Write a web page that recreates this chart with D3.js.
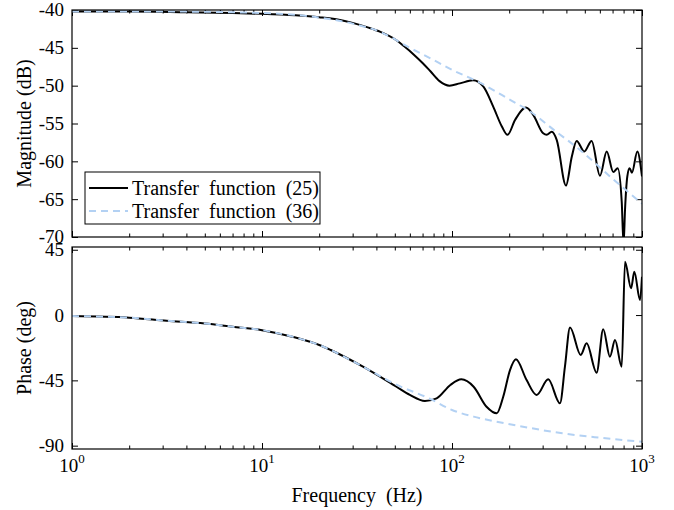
<!DOCTYPE html>
<html>
<head>
<meta charset="utf-8">
<script src="https://cdn.jsdelivr.net/npm/d3@7"></script>
<style>
  body { margin: 0; background: #fff; }
  svg, svg text { font-family: "Liberation Serif", Tinos, "Times New Roman", Times, "DejaVu Serif", serif; fill: #000; }
</style>
</head>
<body>
<div></div>
<script>
// ---- data ----
const freqTicks = [1, 10, 100, 1000];
const magTicks = [-70, -65, -60, -55, -50, -45, -40];
const phaseTicks = [-90, -45, 0, 45];
const seriesNames = ["Transfer function (25)", "Transfer function (36)"];

const mag25Freq = [1, 2, 4, 7, 10, 15, 20, 25, 30, 36, 42, 51, 56, 63, 70, 77, 86, 97, 110, 129, 146, 165, 183, 196, 215, 245, 268, 302, 315, 335, 356, 398, 427, 453, 497, 543, 601, 652, 706, 745, 782, 800, 814, 837, 860, 885, 945, 1000];
const mag25 = [-40.2, -40.2, -40.3, -40.4, -40.5, -40.7, -40.95, -41.25, -41.7, -42.3, -42.9, -44.0, -44.8, -45.9, -47.0, -48.1, -49.4, -50.0, -49.7, -49.3, -50.1, -52.8, -55.4, -56.5, -54.5, -52.9, -53.9, -56.3, -56.5, -56.1, -57.2, -63.2, -59.4, -57.3, -58.7, -57.3, -61.9, -58.7, -61.4, -60.9, -65.3, -71, -66.4, -62.0, -60.9, -61.5, -58.7, -62.0];

const mag36Freq = [1, 3, 10, 20, 30, 42, 60, 77, 100, 140, 200, 257, 350, 472, 700, 1000];
const mag36 = [-40.2, -40.2, -40.4, -41.0, -41.8, -42.9, -45.0, -46.4, -47.9, -49.6, -51.8, -53.4, -56.0, -58.5, -62.3, -65.6];

const phase25Freq = [1, 2, 3.15, 5, 7, 10, 15, 20, 23, 34, 51, 60, 72, 83, 98, 112, 130, 152, 172, 186, 202, 217, 247, 279, 321, 370, 393, 418, 476, 511, 577, 625, 678, 721, 782, 814, 876, 911, 976, 1000];
const phase25 = [-0.7, -1.8, -3.9, -5.8, -8, -10.4, -15.5, -20.6, -24.1, -35.6, -49.4, -55, -59.2, -57.4, -48.2, -44.3, -49.4, -63.2, -67.7, -56.3, -37.9, -30.5, -44.8, -55.1, -44.3, -60.8, -35.6, -8.5, -27.5, -19.5, -39.7, -9.8, -28.7, -17.2, -35.6, 36.7, 18.4, 29.8, 10.3, 26.4];

const phase36Freq = [1, 2, 3.15, 5, 7, 10, 15, 20, 23, 34, 51, 76, 100, 130, 172, 250, 381, 600, 1000];
const phase36 = [-0.7, -1.8, -3.9, -5.8, -8, -10.4, -15.5, -20.6, -24.1, -35.6, -48, -57.5, -65.4, -70, -73.5, -77.5, -81.5, -84.5, -87.3];

// ---- layout ----
const W = 674, H = 510;
const left = 72, right = 642;
const top1 = 10, bot1 = 237;
const top2 = 247, bot2 = 449;
const blue = "#b3d1f3";
const serif = '"Liberation Serif", Tinos, "Times New Roman", Times, "DejaVu Serif", serif';

const svg = d3.select("div").append("svg").attr("width", W).attr("height", H)
  .attr("font-family", serif);

const x = d3.scaleLog().domain([1, 1000]).range([left, right]);
const yMag = d3.scaleLinear().domain([-70, -40]).range([bot1, top1]);
const yPh = d3.scaleLinear().domain([-92.3, 46.9]).range([bot2, top2]);

const minorX = x.ticks().filter(d => !freqTicks.includes(d));

function panel(y, yTicks, top, bot, id) {
  const g = svg.append("g");
  // x ticks on bottom and top edge, pointing inward
  g.append("g").attr("transform", `translate(0,${bot})`)
    .call(d3.axisBottom(x).tickValues(freqTicks).tickSize(-6).tickFormat(""));
  g.append("g").attr("transform", `translate(0,${bot})`)
    .call(d3.axisBottom(x).tickValues(minorX).tickSize(-3.5).tickFormat(""));
  g.append("g").attr("transform", `translate(0,${top})`)
    .call(d3.axisTop(x).tickValues(freqTicks).tickSize(-6).tickFormat(""));
  g.append("g").attr("transform", `translate(0,${top})`)
    .call(d3.axisTop(x).tickValues(minorX).tickSize(-3.5).tickFormat(""));
  g.append("g").attr("transform", `translate(${left},0)`)
    .call(d3.axisLeft(y).tickValues(yTicks).tickSize(-6).tickFormat(""));
  g.append("g").attr("transform", `translate(${right},0)`)
    .call(d3.axisRight(y).tickValues(yTicks).tickSize(-6).tickFormat(""));
  g.selectAll(".domain").remove();
  g.selectAll(".tick line").attr("stroke", "#000").attr("stroke-width", 1);

  g.selectAll(".ylab").data(yTicks).enter().append("text")
    .attr("x", left - 8).attr("y", d => y(d)).attr("dy", "0.34em")
    .attr("text-anchor", "end").attr("font-size", 19).attr("font-family", serif)
    .text(d => d);

  svg.append("clipPath").attr("id", id).append("rect")
    .attr("x", left).attr("y", top).attr("width", right - left).attr("height", bot - top);
}

function box(top, bot) {
  svg.append("rect").attr("x", left).attr("y", top).attr("width", right - left).attr("height", bot - top)
    .attr("fill", "none").attr("stroke", "#000").attr("stroke-width", 1.2);
}

panel(yMag, magTicks, top1, bot1, "clip1");
panel(yPh, phaseTicks, top2, bot2, "clip2");

function curve(fr, vals, y, clip, color, dash) {
  const pts = fr.map((f, i) => [f, vals[i]]);
  svg.append("path").datum(pts)
    .attr("clip-path", `url(#${clip})`)
    .attr("fill", "none").attr("stroke", color).attr("stroke-width", 2)
    .attr("stroke-dasharray", dash)
    .attr("d", d3.line().x(d => x(d[0])).y(d => y(d[1])).curve(d3.curveMonotoneX));
}

curve(mag25Freq, mag25, yMag, "clip1", "#000", null);
curve(mag36Freq, mag36, yMag, "clip1", blue, "7,5");
curve(phase25Freq, phase25, yPh, "clip2", "#000", null);
curve(phase36Freq, phase36, yPh, "clip2", blue, "7,5");

box(top1, bot1);
box(top2, bot2);

// x tick labels with exponents
const xl = svg.selectAll(".xlab").data(freqTicks).enter().append("text")
  .attr("x", d => x(d)).attr("y", 472).attr("text-anchor", "middle").attr("font-size", 19);
xl.append("tspan").text("10");
xl.append("tspan").attr("font-size", 13).attr("dy", -9).text(d => Math.round(Math.log10(d)));

// axis titles
svg.append("text").attr("transform", `translate(31,${(top1 + bot1) / 2}) rotate(-90)`)
  .attr("text-anchor", "middle").attr("font-size", 20).text("Magnitude (dB)");
svg.append("text").attr("transform", `translate(31,${(top2 + bot2) / 2}) rotate(-90)`)
  .attr("text-anchor", "middle").attr("font-size", 20).text("Phase (deg)");
svg.append("text").attr("x", (left + right) / 2).attr("y", 502)
  .attr("text-anchor", "middle").attr("font-size", 20).attr("xml:space", "preserve").text("Frequency  (Hz)");

// legend
const lg = svg.append("g");
lg.append("rect").attr("x", 85).attr("y", 172).attr("width", 235).attr("height", 52)
  .attr("fill", "#fff").attr("stroke", "#000").attr("stroke-width", 1);
const rows = lg.selectAll(".row").data(seriesNames).enter().append("g")
  .attr("transform", (d, i) => `translate(0,${188 + i * 23})`);
rows.append("line").attr("x1", 89).attr("x2", 128).attr("y1", 0).attr("y2", 0)
  .attr("stroke", (d, i) => i === 0 ? "#000" : blue).attr("stroke-width", 2)
  .attr("stroke-dasharray", (d, i) => i === 0 ? null : "7,5");
rows.append("text").attr("x", 132).attr("y", 0).attr("dy", "0.34em").attr("font-size", 20)
  .attr("xml:space", "preserve")
  .text(d => d.replace(/ /g, "  "));
</script>
</body>
</html>
